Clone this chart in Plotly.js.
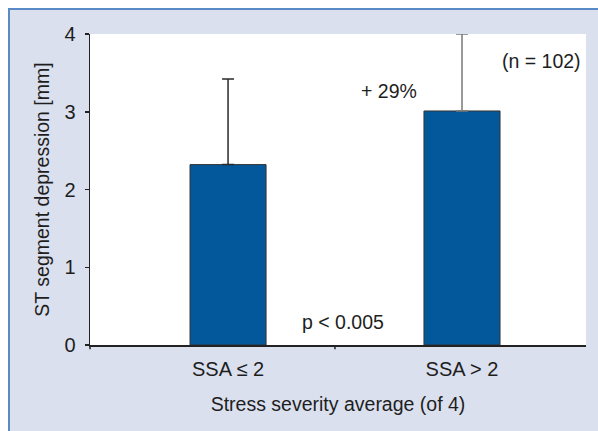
<!DOCTYPE html>
<html>
<head>
<meta charset="utf-8">
<script src="https://cdn.plot.ly/plotly-3.0.1.min.js"></script>
<style>
  html, body { margin: 0; padding: 0; background: #ffffff; }
  #frame { position: absolute; left: 8px; top: 8px; width: 590px; height: 423px;
           background: #dbe0ee; border-top: 2px solid #5a8ac6; border-left: 2px solid #5a8ac6; box-sizing: border-box; }
  #chart { position: absolute; left: 0; top: 0; width: 598px; height: 431px; }
</style>
</head>
<body>
<div id="frame"></div>
<div id="chart"></div>
<script>
const categories = ["SSA \u2264 2", "SSA > 2"];
const meanValues = [2.32, 3.01];
const errorUpper = [1.10, 0.99];
const errorColors = ["#2a2a2a", "#7a7a7a"];
const yTicks = [0, 1, 2, 3, 4];

const FONT = "Liberation Sans Narrow, Liberation Sans, Arial, sans-serif";
const TXT = "#1e1e1e";

const traces = categories.map((c, i) => ({
  type: "bar",
  x: [c],
  y: [meanValues[i]],
  width: 0.325,
  marker: { color: "#03589b", line: { color: "#333333", width: 1 } },
  error_y: { type: "data", symmetric: false, array: [errorUpper[i]], arrayminus: [0],
             color: errorColors[i], thickness: 1.5, width: 6 },
  hoverinfo: "skip",
  showlegend: false
}));

const layout = {
  width: 598, height: 431,
  margin: { l: 90, r: 12, t: 34, b: 86 },
  paper_bgcolor: "rgba(0,0,0,0)",
  plot_bgcolor: "#ffffff",
  font: { family: FONT, size: 19, color: TXT },
  bargap: 0,
  xaxis: {
    type: "category",
    categoryorder: "array", categoryarray: categories,
    range: [-0.59, 1.53],
    showline: true, linecolor: "#222", linewidth: 1.5,
    ticks: "", showgrid: false, zeroline: false,
    ticklabelstandoff: 5,
    tickfont: { family: FONT, size: 20, color: TXT },
    title: { text: "Stress severity average (of 4)", font: { family: FONT, size: 19.5, color: TXT }, standoff: 19 }
  },
  yaxis: {
    range: [0, 4], tickvals: yTicks,
    showline: true, linecolor: "#222", linewidth: 1.5,
    ticks: "outside", ticklen: 4, tickcolor: "#222", tickwidth: 1.5,
    showgrid: false, zeroline: false,
    ticklabelstandoff: 5,
    tickfont: { family: FONT, size: 20, color: TXT },
    title: { text: "ST segment depression [mm]", font: { family: FONT, size: 19.5, color: TXT }, standoff: 9 }
  },
  shapes: [
    { type: "line", xref: "x", yref: "paper", x0: 0.457, x1: 0.457, y0: 0, y1: -0.014,
      line: { color: "#222", width: 1.5 } },
    { type: "line", xref: "paper", yref: "paper", x0: 0, x1: 0, y0: 0, y1: -0.014,
      line: { color: "#222", width: 1.5 } }
  ],
  annotations: [
    { text: "+ 29%", xref: "x", yref: "y", x: 0.69, y: 3.27, showarrow: false, font: { family: FONT, size: 19.5, color: TXT } },
    { text: "(n = 102)", xref: "x", yref: "y", x: 1.34, y: 3.65, showarrow: false, font: { family: FONT, size: 19.5, color: TXT } },
    { text: "p < 0.005", xref: "x", yref: "y", x: 0.49, y: 0.3, showarrow: false, font: { family: FONT, size: 19.5, color: TXT } }
  ]
};

Plotly.newPlot("chart", traces, layout, { displayModeBar: false, staticPlot: true });
</script>
</body>
</html>
